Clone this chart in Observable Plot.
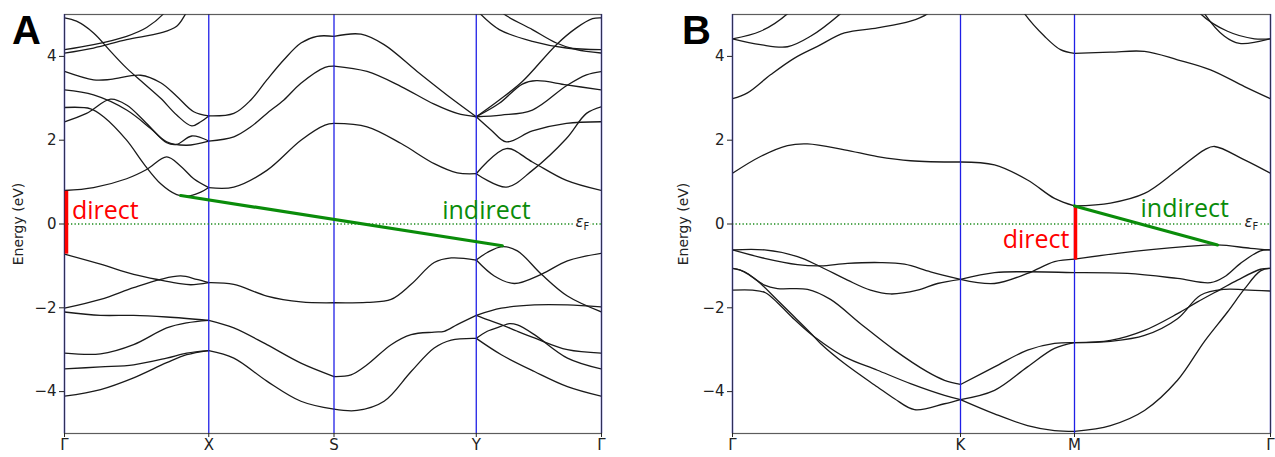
<!DOCTYPE html>
<html><head><meta charset="utf-8">
<script src="https://cdn.jsdelivr.net/npm/d3@7"></script>
<script src="https://cdn.jsdelivr.net/npm/@observablehq/plot@0.6"></script>
<style>
body{margin:0;background:#fff;}
#wrap{position:relative;width:1275px;height:457px;overflow:hidden;background:#fff;}
.panel{position:absolute;top:0;}
.tag{position:absolute;font:bold 40px "Liberation Sans",Arial,sans-serif;line-height:1;color:#000;}
.ylab{position:absolute;font:14px "DejaVu Sans",sans-serif;color:#222;transform:translate(-50%,-50%) rotate(-90deg);white-space:nowrap;}
</style></head><body><div id="wrap"></div>
<script>
// ---------- Panel A: path Γ–X–S–Y–Γ ----------
const kA = [0, 1.44, 2.69, 4.11, 5.36];
const labA = ["Γ", "X", "S", "Y", "Γ"];

const bandsA_GX = [
  [[0,-4.11],[0.36,-3.95],[0.69,-3.67],[1.02,-3.31],[1.22,-3.12],[1.44,-3.02]],
  [[0,-3.46],[0.36,-3.41],[0.69,-3.36],[1.02,-3.20],[1.22,-3.08],[1.44,-3.02]],
  [[0,-3.08],[0.36,-3.10],[0.69,-2.88],[1.02,-2.48],[1.22,-2.36],[1.44,-2.30]],
  [[0,-2.10],[0.36,-2.18],[0.69,-2.18],[1.02,-2.22],[1.44,-2.30]],
  [[0,-0.72],[0.36,-0.96],[0.69,-1.20],[0.96,-1.34],[1.12,-1.41],[1.26,-1.45],[1.44,-1.40]],
  [[0,-2.01],[0.36,-1.80],[0.69,-1.52],[0.96,-1.32],[1.16,-1.24],[1.32,-1.32],[1.44,-1.40]],
  [[0,0.80],[0.29,0.87],[0.62,1.08],[0.82,1.30],[1.02,1.60],[1.16,1.38],[1.29,1.08],[1.44,0.87]],
  [[0,2.78],[0.26,2.75],[0.39,2.56],[0.62,2.00],[0.79,1.44],[0.96,0.96],[1.12,0.70],[1.22,0.66],[1.36,0.76],[1.44,0.87]],
  [[0,2.44],[0.22,2.64],[0.46,2.98],[0.62,2.84],[0.82,2.40],[1.02,1.94],[1.12,1.90],[1.27,2.10],[1.44,1.98]],
  [[0,3.20],[0.29,3.08],[0.62,2.72],[0.86,2.28],[1.02,1.96],[1.22,1.88],[1.44,1.98]],
  [[0,3.64],[0.29,3.44],[0.46,3.45],[0.76,3.55],[0.96,3.37],[1.12,3.05],[1.29,2.68],[1.44,2.58]],
  [[0,4.92],[0.12,4.84],[0.29,4.56],[0.46,4.12],[0.62,3.72],[0.79,3.36],[0.96,3.00],[1.12,2.60],[1.27,2.34],[1.36,2.44],[1.44,2.58]],
  [[0,4.16],[0.29,4.28],[0.62,4.48],[0.82,4.69],[0.99,5.02],[1.10,5.40]],
  [[0,4.08],[0.29,4.20],[0.62,4.40],[0.96,4.56],[1.12,4.72],[1.21,5.02],[1.30,5.40]]
];
const bandsA_XS = [
  [[1.44,-3.02],[1.69,-3.20],[2.02,-3.75],[2.36,-4.23],[2.69,-4.42]],
  [[1.44,-2.30],[1.69,-2.48],[2.02,-2.88],[2.36,-3.32],[2.69,-3.64]],
  [[1.44,-1.40],[1.69,-1.44],[2.02,-1.72],[2.36,-1.86],[2.69,-1.88]],
  [[1.44,0.87],[1.69,0.88],[2.02,1.28],[2.36,2.00],[2.60,2.36],[2.69,2.40]],
  [[1.44,1.98],[1.69,2.08],[1.86,2.32],[2.02,2.64],[2.19,2.96],[2.36,3.36],[2.60,3.74],[2.69,3.77]],
  [[1.44,2.58],[1.69,2.64],[1.86,2.96],[2.02,3.44],[2.19,3.92],[2.36,4.32],[2.52,4.48],[2.69,4.48]]
];
const bandsA_SY = [
  [[2.69,-4.42],[2.92,-4.45],[3.19,-4.23],[3.46,-3.52],[3.69,-2.96],[3.86,-2.77],[4.11,-2.73]],
  [[2.69,-3.64],[2.86,-3.60],[3.02,-3.36],[3.26,-2.88],[3.46,-2.64],[3.69,-2.58],[3.79,-2.56],[3.92,-2.40],[4.11,-2.18]],
  [[2.69,-1.88],[3.02,-1.87],[3.26,-1.80],[3.46,-1.44],[3.69,-0.92],[3.86,-0.81],[4.11,-0.86]],
  [[2.69,2.40],[3.02,2.32],[3.36,1.92],[3.69,1.44],[3.92,1.22],[4.11,1.20]],
  [[2.69,3.77],[3.02,3.64],[3.36,3.28],[3.69,2.86],[3.92,2.64],[4.11,2.56]],
  [[2.69,4.48],[2.96,4.53],[3.19,4.28],[3.52,3.64],[3.86,3.00],[4.11,2.56]]
];
const bandsA_YG = [
  [[4.11,-2.73],[4.36,-3.12],[4.69,-3.52],[5.02,-3.88],[5.36,-4.11]],
  [[4.11,-2.73],[4.22,-2.56],[4.36,-2.44],[4.44,-2.38],[4.52,-2.41],[4.69,-2.64],[5.02,-3.20],[5.36,-3.46]],
  [[4.11,-2.18],[4.22,-2.28],[4.36,-2.40],[4.52,-2.56],[4.69,-2.72],[5.02,-3.00],[5.36,-3.08]],
  [[4.11,-2.18],[4.36,-2.01],[4.69,-1.93],[5.02,-1.93],[5.36,-1.98]],
  [[4.11,-0.86],[4.22,-0.68],[4.37,-0.54],[4.52,-0.64],[4.76,-1.20],[5.02,-1.72],[5.36,-2.10]],
  [[4.11,-0.86],[4.29,-1.24],[4.49,-1.42],[4.76,-1.20],[5.02,-0.88],[5.36,-0.70]],
  [[4.11,2.56],[4.34,2.96],[4.57,3.40],[4.91,4.28],[5.11,4.68],[5.27,4.90],[5.36,4.92]],
  [[4.11,2.56],[4.34,2.88],[4.57,3.34],[4.71,3.42],[5.01,3.32],[5.36,3.20]],
  [[4.11,2.56],[4.36,2.60],[4.67,2.72],[5.01,3.30],[5.21,3.56],[5.36,3.64]],
  [[4.11,2.56],[4.26,2.24],[4.41,1.96],[4.67,2.22],[5.01,2.40],[5.36,2.44]],
  [[4.11,1.20],[4.41,1.80],[4.67,1.48],[5.01,1.04],[5.36,0.80]],
  [[4.11,1.20],[4.41,0.88],[4.67,1.28],[5.01,2.04],[5.21,2.64],[5.36,2.80]],
  [[4.05,5.30],[4.14,5.04],[4.34,4.64],[4.67,4.36],[5.01,4.20],[5.36,4.16]],
  [[4.28,5.30],[4.37,5.04],[4.67,4.64],[4.91,4.32],[5.11,4.16],[5.36,4.08]]
];
const gapA_direct = [0, -0.72, 0.78];            // k, E bottom, E top
const gapA_indirect = [[1.16, 0.68], [4.37, -0.52]];
const notesA = [
  {text: "direct", k: 0.074, E: 0.125, color: "red", anchor: "start"},
  {text: "indirect", k: 3.77, E: 0.12, color: "green", anchor: "start"}
];

// ---------- Panel B: path Γ–K–M–Γ ----------
const kB = [0, 2.28, 3.42, 5.38];
const labB = ["Γ", "K", "M", "Γ"];

const bandsB_GK = [
  [[0,1.21],[0.28,1.61],[0.55,1.87],[0.75,1.91],[1.12,1.77],[1.45,1.61],[1.78,1.51],[2.28,1.48]],
  [[0,2.99],[0.15,3.13],[0.38,3.56],[0.62,3.96],[0.85,4.24],[1.12,4.56],[1.45,4.68],[1.78,4.84],[1.95,5.02],[2.05,5.30]],
  [[0,4.42],[0.28,4.60],[0.55,5.02],[0.65,5.30]],
  [[0,4.42],[0.28,4.28],[0.55,4.23],[0.78,4.48],[1.08,5.02],[1.20,5.30]],
  [[0,-0.62],[0.32,-0.62],[0.65,-0.78],[0.88,-1.02],[1.15,-1.34],[1.38,-1.58],[1.58,-1.67],[1.85,-1.58],[2.05,-1.42],[2.28,-1.32]],
  [[0,-0.62],[0.32,-0.82],[0.65,-0.97],[0.88,-1.00],[1.15,-0.94],[1.48,-0.92],[1.72,-0.96],[1.98,-1.14],[2.28,-1.32]],
  [[0,-1.06],[0.12,-1.14],[0.32,-1.46],[0.45,-1.54],[0.75,-1.56],[0.98,-1.80],[1.28,-2.38],[1.62,-3.01],[1.95,-3.53],[2.12,-3.73],[2.28,-3.83]],
  [[0,-1.06],[0.08,-1.10],[0.25,-1.36],[0.45,-1.82],[0.62,-2.22],[0.78,-2.60],[0.88,-2.85],[1.12,-3.33],[1.45,-3.89],[1.62,-4.17],[1.82,-4.43],[2.12,-4.29],[2.28,-4.19]],
  [[0,-1.58],[0.20,-1.58],[0.33,-1.64],[0.45,-1.88],[0.62,-2.28],[0.78,-2.62],[0.88,-2.80],[1.12,-3.17],[1.45,-3.49],[1.78,-3.81],[2.12,-4.09],[2.28,-4.19]]
];
const bandsB_KM = [
  [[2.28,1.48],[2.62,1.41],[2.95,1.05],[3.22,0.61],[3.42,0.43]],
  [[2.85,5.30],[2.92,5.02],[3.12,4.48],[3.28,4.16],[3.42,4.07]],
  [[2.28,-1.32],[2.62,-1.42],[2.95,-1.18],[3.22,-0.90],[3.42,-0.84]],
  [[2.28,-1.32],[2.62,-1.16],[2.95,-1.14],[3.42,-1.16]],
  [[2.28,-3.83],[2.62,-3.41],[2.95,-3.01],[3.22,-2.85],[3.42,-2.83]],
  [[2.28,-4.19],[2.62,-3.97],[2.95,-3.41],[3.22,-2.97],[3.42,-2.83]],
  [[2.28,-4.19],[2.62,-4.53],[2.95,-4.81],[3.22,-4.93],[3.42,-4.95]]
];
const bandsB_MG = [
  [[3.42,0.43],[3.78,0.50],[4.12,0.73],[4.45,1.29],[4.72,1.77],[4.82,1.85],[5.12,1.53],[5.38,1.21]],
  [[3.42,4.07],[3.78,4.10],[4.12,4.12],[4.45,3.92],[4.78,3.68],[5.12,3.28],[5.38,2.99]],
  [[4.60,5.30],[4.68,5.02],[4.95,4.60],[5.22,4.42],[5.38,4.42]],
  [[4.66,5.30],[4.72,5.02],[4.92,4.48],[5.07,4.31],[5.38,4.42]],
  [[3.42,-0.84],[3.85,-0.70],[4.52,-0.54],[4.85,-0.50],[5.18,-0.58],[5.38,-0.62]],
  [[3.42,-1.16],[3.95,-1.18],[4.45,-1.30],[4.78,-1.40],[4.92,-1.26],[5.08,-0.94],[5.28,-0.64],[5.38,-0.62]],
  [[3.42,-2.83],[3.78,-2.78],[4.12,-2.54],[4.45,-2.14],[4.65,-1.86],[4.88,-1.56],[5.05,-1.34],[5.28,-1.08],[5.38,-1.06]],
  [[3.42,-2.83],[3.78,-2.80],[4.12,-2.66],[4.45,-2.26],[4.68,-1.70],[4.92,-1.56],[5.12,-1.57],[5.38,-1.60]],
  [[3.42,-4.95],[3.78,-4.81],[4.12,-4.45],[4.45,-3.73],[4.72,-2.80],[4.95,-2.10],[5.12,-1.55],[5.28,-1.12],[5.38,-1.06]]
];
const gapB_direct = [3.42, -0.86, 0.43];
const gapB_indirect = [[3.42, 0.43], [4.85, -0.50]];
const notesB = [
  {text: "direct", k: 3.37, E: -0.58, color: "red", anchor: "end"},
  {text: "indirect", k: 4.08, E: 0.17, color: "green", anchor: "start"}
];

const yTicks = [-4, -2, 0, 2, 4];

// ---------- drawing ----------
const COLORS = {red: "#ff0000", green: "#0a8c0a"};
function rowsOf(segments) {
  const rows = [];
  let id = 0;
  for (const seg of segments) for (const curve of seg) {
    for (const [k, E] of curve) rows.push({id, k, E});
    id++;
  }
  return rows;
}
function noteMarks(notes) {
  return ["start", "end", "middle"].map((a) =>
    Plot.text(notes.filter((d) => d.anchor === a), {x: "k", y: "E", text: "text",
      fill: (d) => COLORS[d.color], textAnchor: a, lineAnchor: "bottom",
      fontSize: 25, fontFamily: "Open Sans, sans-serif"}));
}
function panel({bands, ks, labels, direct, indirect, notes, width, marginLeft, marginRight, directDx}) {
  const rows = rowsOf(bands);
  const fmtX = (d) => labels[ks.findIndex((v) => Math.abs(v - d) < 1e-9)];
  return Plot.plot({
    width, height: 457,
    marginTop: 14, marginBottom: 24, marginLeft, marginRight,
    x: {domain: [0, ks[ks.length - 1]]},
    y: {domain: [-5, 5]},
    style: {fontFamily: "DejaVu Sans, sans-serif", fontSize: "14px", color: "#222", background: "transparent", overflow: "visible"},
    marks: [
      Plot.line(rows, {x: "k", y: "E", z: "id", curve: "catmull-rom", stroke: "#1a1a1a", strokeWidth: 1.3, clip: true}),
      Plot.ruleX(ks, {stroke: "#1f1fe6", strokeWidth: 1.3}),
      Plot.ruleY([0], {stroke: "#1a8a1a", strokeWidth: 1.3, strokeDasharray: "1.3,2.2"}),
      Plot.frame({stroke: "#333", strokeOpacity: 0.8, strokeWidth: 1.2}),
      Plot.axisY({ticks: yTicks, tickSize: 5, tickPadding: 3, label: null, fontSize: 15,
        tickFormat: (d) => (d < 0 ? "\u2212" + (-d) : String(d))}),
      Plot.axisX({ticks: ks, tickSize: 4, tickPadding: 2, label: null, fontSize: 15, tickFormat: fmtX}),
      Plot.ruleX([direct], {x: (d) => d[0], y1: (d) => d[1], y2: (d) => d[2], stroke: COLORS.red, strokeWidth: 3.5, dx: directDx}),
      Plot.line(indirect, {x: (d) => d[0], y: (d) => d[1], stroke: COLORS.green, strokeWidth: 3.2}),
      ...noteMarks(notes),
      Plot.text([0], {y: (d) => d, text: () => "\u03b5", frameAnchor: "right", textAnchor: "start", lineAnchor: "bottom",
        dx: -26, dy: 3, fontSize: 15, fontStyle: "italic", fill: "#222", stroke: "white", strokeWidth: 6}),
      Plot.text([0], {y: (d) => d, text: () => "F", frameAnchor: "right", textAnchor: "start", lineAnchor: "bottom",
        dx: -18, dy: 6, fontSize: 10, fill: "#222", stroke: "white", strokeWidth: 4})
    ]
  });
}

const wrap = document.getElementById("wrap");
const svgA = panel({bands: [bandsA_GX, bandsA_XS, bandsA_SY, bandsA_YG], ks: kA, labels: labA,
  direct: gapA_direct, indirect: gapA_indirect, notes: notesA, width: 637, marginLeft: 64, marginRight: 36, directDx: 2});
const svgB = panel({bands: [bandsB_GK, bandsB_KM, bandsB_MG], ks: kB, labels: labB,
  direct: gapB_direct, indirect: gapB_indirect, notes: notesB, width: 638, marginLeft: 95, marginRight: 5, directDx: 1});
svgA.classList.add("panel"); svgA.style.left = "0px";
svgB.classList.add("panel"); svgB.style.left = "637px";
wrap.appendChild(svgA); wrap.appendChild(svgB);

function addDiv(cls, text, left, top) {
  const d = document.createElement("div");
  d.className = cls; d.textContent = text;
  d.style.left = left + "px"; d.style.top = top + "px";
  wrap.appendChild(d);
}
addDiv("tag", "A", 12, 10);
addDiv("tag", "B", 682, 10);
addDiv("ylab", "Energy (eV)", 17.5, 224);
addDiv("ylab", "Energy (eV)", 682.5, 224);
</script>
</body></html>
